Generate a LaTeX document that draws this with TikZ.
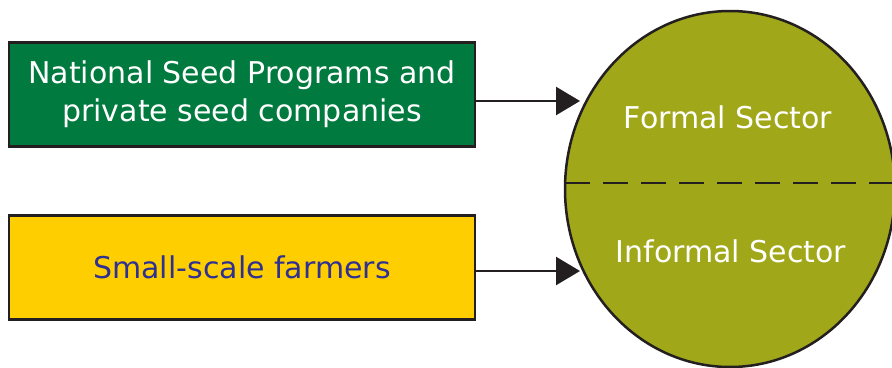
\documentclass[tikz,border=0pt]{standalone}
\usepackage{fontspec}
\setmainfont{DejaVu Sans}
\usetikzlibrary{arrows.meta,shapes.geometric}
\definecolor{sgreen}{RGB}{0,122,62}
\definecolor{syellow}{RGB}{255,206,0}
\definecolor{solive}{RGB}{160,167,24}
\definecolor{sblue}{RGB}{46,49,146}
\definecolor{sdark}{RGB}{35,31,32}
\tikzset{
  box/.style={draw=sdark, line width=2.5pt, minimum width=466pt, minimum height=104pt, inner sep=0pt, align=center, font=\fontsize{30}{38}\selectfont},
  sector/.style={font=\fontsize{30}{38}\selectfont, text=white, anchor=base, inner sep=0pt},
  link/.style={draw=sdark, line width=2.5pt, -{Triangle[length=24pt,width=28pt]}},
}
\begin{document}
\begin{tikzpicture}[x=1pt,y=-1pt]
\useasboundingbox (0,0) rectangle (892,367);
\node[box, fill=sgreen, text=white] (nsp) at (242,94.5) {National Seed Programs and\\private seed companies};
\node[box, fill=syellow, text=sblue] (farm) at (242,267.5) {Small-scale farmers};
\node[ellipse, draw=sdark, fill=solive, line width=2.5pt, minimum width=330pt, minimum height=356pt, inner sep=0pt] (sect) at (730,189) {};
\coordinate (dl) at (565,183);
\coordinate (dr) at (900,183);
\draw[sdark, line width=2.5pt, dash pattern=on 25pt off 13pt] (dl) -- (dr);
\node[sector] (formal) at (728,128) {Formal Sector};
\node[sector] (informal) at (731,262) {Informal Sector};
\coordinate (t1) at (580,101);
\coordinate (t2) at (580,271);
\draw[link] (nsp.east |- t1) -- (t1);
\draw[link] (farm.east |- t2) -- (t2);
\end{tikzpicture}
\end{document}
